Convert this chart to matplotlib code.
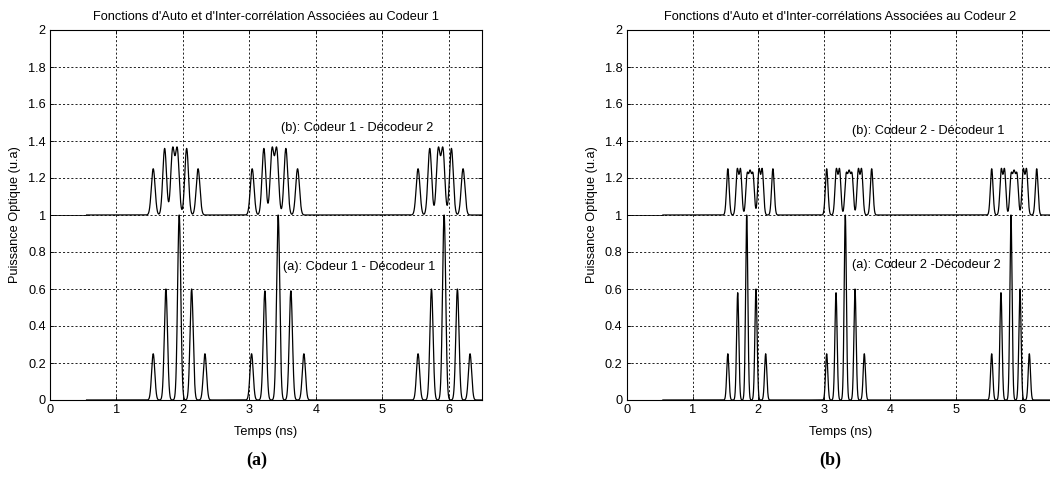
import numpy as np
import matplotlib
matplotlib.use("Agg")
import matplotlib.pyplot as plt
from matplotlib import font_manager
from matplotlib.ticker import FormatStrFormatter, MultipleLocator

# ---------------- data ----------------
titles = ["Fonctions d'Auto et d'Inter-corrélation Associées au Codeur 1",
          "Fonctions d'Auto et d'Inter-corrélations Associées au Codeur 2"]
labels_auto = ["(a): Codeur 1 - Décodeur 1", "(a): Codeur 2 -Décodeur 2"]
labels_cross = ["(b): Codeur 1 - Décodeur 2", "(b): Codeur 2 - Décodeur 1"]
panel_tags = ["(a)", "(b)"]
xlabel = "Temps (ns)"
ylabel = "Puissance Optique (u.a)"

# label anchor positions (data coords)
auto_label_xy = [(3.50, 0.72), (3.43, 0.73)]
cross_label_xy = [(3.47, 1.47), (3.43, 1.455)]

# Codeur 1 - Décodeur 1 (autocorrelation) pulse centres (ns) and heights
c1_auto_t = [1.553, 1.744, 1.944, 2.131, 2.331,
             3.033, 3.233, 3.433, 3.624, 3.820,
             5.538, 5.740, 5.930, 6.130, 6.320]
c1_auto_h = [0.25, 0.60, 1.00, 0.60, 0.25,
             0.25, 0.59, 1.00, 0.59, 0.25,
             0.25, 0.60, 1.00, 0.60, 0.25]
# Codeur 1 - Décodeur 2 (cross-correlation)
c1_cross_t = [1.553, 1.725, 1.845, 1.915, 2.056, 2.228,
              3.042, 3.218, 3.341, 3.411, 3.549, 3.725,
              5.538, 5.714, 5.842, 5.912, 6.040, 6.215]
c1_cross_h = [0.25, 0.36, 0.35, 0.35, 0.36, 0.25,
              0.25, 0.36, 0.35, 0.35, 0.36, 0.25,
              0.25, 0.36, 0.35, 0.35, 0.36, 0.25]
# Codeur 2 - Décodeur 2 (autocorrelation)
c2_auto_t = [1.537, 1.687, 1.824, 1.965, 2.112,
             3.039, 3.181, 3.322, 3.470, 3.611,
             5.547, 5.688, 5.840, 5.977, 6.119]
c2_auto_h = [0.25, 0.58, 1.00, 0.60, 0.25,
             0.25, 0.58, 1.00, 0.60, 0.25,
             0.25, 0.58, 1.00, 0.60, 0.25]
# Codeur 2 - Décodeur 1 (cross-correlation)
c2_cross_t = [1.537, 1.680, 1.730, 1.830, 1.875, 1.920, 2.010, 2.060, 2.222,
              3.039, 3.185, 3.235, 3.335, 3.380, 3.425, 3.520, 3.570, 3.723,
              5.547, 5.692, 5.742, 5.842, 5.887, 5.932, 6.027, 6.077, 6.231]
c2_cross_h = [0.25, 0.24, 0.24, 0.21, 0.21, 0.21, 0.24, 0.24, 0.25,
              0.25, 0.24, 0.24, 0.21, 0.21, 0.21, 0.24, 0.24, 0.25,
              0.25, 0.24, 0.24, 0.21, 0.21, 0.21, 0.24, 0.24, 0.25]

pulse_width = [(0.024, 0.028), (0.017, 0.020)]   # (auto, cross) per panel
cross_offset = 1.0
t_start = 0.55
x_max = 6.5

# ---------------- fonts ----------------
try:
    font_manager.findfont(font_manager.FontProperties(family="Liberation Sans Narrow"),
                          fallback_to_default=False)
    FAM, FS = "Liberation Sans Narrow", 10.5
except Exception:
    FAM, FS = "Liberation Sans", 9.2
plt.rcParams["font.family"] = [FAM, "DejaVu Sans"]


def pulse_train(t, centers, heights, width):
    c = np.asarray(centers)[None, :]
    h = np.asarray(heights)[None, :]
    return (h * np.exp(-0.5 * ((t[:, None] - c) / width) ** 2)).sum(axis=1)


t = np.linspace(0, x_max, 9001)

fig = plt.figure(figsize=(10.5, 4.84), dpi=100)
ax1 = fig.add_axes([50 / 1050, 1 - 400 / 484, 432 / 1050, 370 / 484])
ax2 = fig.add_axes([626.7 / 1050, 1 - 400 / 484, 427.7 / 1050, 370 / 484])

series = [(c1_auto_t, c1_auto_h, c1_cross_t, c1_cross_h),
          (c2_auto_t, c2_auto_h, c2_cross_t, c2_cross_h)]

tag_x = [257 / 1050, 830 / 1050]

for i, ax in enumerate([ax1, ax2]):
    at, ah, ct, ch = series[i]
    wa, wc = pulse_width[i]
    y_auto = pulse_train(t, at, ah, wa)
    y_cross = cross_offset + pulse_train(t, ct, ch, wc)
    pre = t <= t_start
    post = t >= t_start
    for y in (y_auto, y_cross):
        ax.plot(t[pre], y[pre], color="k", lw=0.6, zorder=3)
        ax.plot(t[post], y[post], color="k", lw=0.9, zorder=3)

    ax.set_xlim(0, x_max)
    ax.set_ylim(0, 2)
    ax.xaxis.set_major_locator(MultipleLocator(1))
    ax.yaxis.set_major_locator(MultipleLocator(0.2))
    ax.yaxis.set_major_formatter(FormatStrFormatter("%g"))
    ax.tick_params(direction="in", length=3, width=0.6, labelsize=FS, pad=3,
                   top=True, right=True)
    ax.grid(True, color="k", linestyle=(0, (2.5, 2.5)), linewidth=0.6)
    for s in ax.spines.values():
        s.set_linewidth(0.8)

    ax.set_title(titles[i], fontsize=FS, pad=7)
    ax.set_xlabel(xlabel, fontsize=FS, va="center")
    ax.xaxis.set_label_coords(0.5, -32 / 370)
    ax.set_ylabel(ylabel, fontsize=FS, va="center")
    ax.yaxis.set_label_coords(-35 / 432, 0.5)

    ax.text(*auto_label_xy[i], labels_auto[i], fontsize=FS, ha="left", va="center",
            zorder=4)
    ax.text(*cross_label_xy[i], labels_cross[i], fontsize=FS, ha="left", va="center",
            zorder=4)

    fig.text(tag_x[i], 1 - 460 / 484, panel_tags[i], fontsize=13, fontweight="bold",
             family=["Liberation Serif", "DejaVu Serif"], ha="center", va="center")

fig.savefig("out.png", dpi=100)
